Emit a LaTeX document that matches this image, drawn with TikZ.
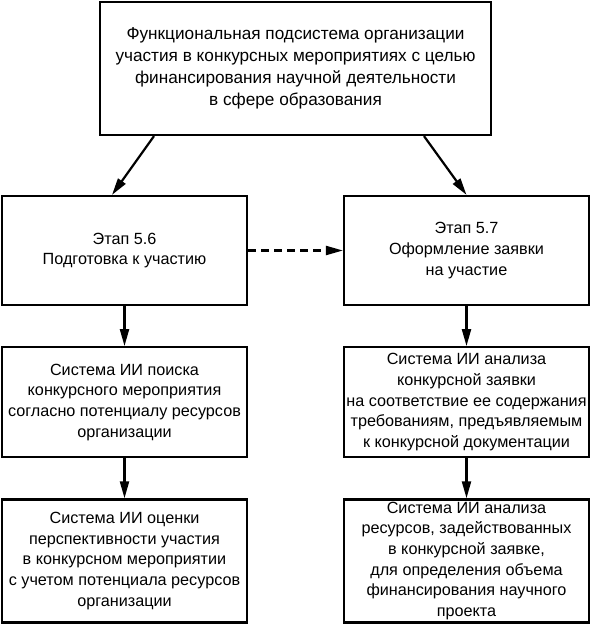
\documentclass[tikz,border=0pt]{standalone}
\usepackage{fontspec}
\setmainfont{Liberation Sans}
\usetikzlibrary{arrows.meta,positioning}

\begin{document}
\begin{tikzpicture}[
    x=1pt, y=1pt,
    node distance=40pt,
    box/.style={
      draw=black,
      line width=2.2pt,
      align=center,
      font=\fontsize{16.2}{20.6}\selectfont,
      inner xsep=1pt,
      inner ysep=0pt,
      minimum width=245pt
    },
    arr/.style={-{Triangle[length=17pt,width=9pt]}, line width=2.2pt},
    dasharr/.style={arr, dash pattern=on 8pt off 5pt}
  ]
    \useasboundingbox (0,0) rectangle (593,-624);

    \node[box, font=\fontsize{17.2}{22}\selectfont,
          minimum width=391pt, minimum height=133pt] (top) at (295.5,-68.5)
      {Функциональная подсистема организации\\
       участия в конкурсных мероприятиях с целью\\
       финансирования научной деятельности\\
       в сфере образования};

    \node[box, minimum height=109pt] (et6) at (124.5,-250.5)
      {Этап 5.6\\ Подготовка к участию};
    \node[box, minimum height=109pt] (et7) at (466.5,-250.5)
      {Этап 5.7\\ Оформление заявки\\ на участие};

    \node[box, minimum height=110pt, below=of et6] (poisk)
      {Система ИИ поиска\\ конкурсного мероприятия\\
       согласно потенциалу ресурсов\\ организации};
    \node[box, minimum height=110pt, below=of et7] (analiz)
      {Система ИИ анализа\\ конкурсной заявки\\
       на соответствие ее содержания\\ требованиям, предъявляемым\\
       к конкурсной документации};

    \node[box, minimum height=123pt, below=of poisk] (ocenka)
      {Система ИИ оценки\\ перспективности участия\\
       в конкурсном мероприятии\\ с учетом потенциала ресурсов\\
       организации};
    \node[box, minimum height=123pt, below=of analiz] (resursy)
      {Система ИИ анализа\\ ресурсов, задействованных\\
       в конкурсной заявке,\\ для определения объема\\
       финансирования научного\\ проекта};

    % arrows
    \draw[arr] ([xshift=-141.5pt]top.south) -- ([xshift=-12.5pt]et6.north);
    \draw[arr] ([xshift=128.5pt]top.south) -- (et7.north);
    \draw[dasharr] (et6.east) -- (et7.west);
    \draw[arr] (et6) -- (poisk);
    \draw[arr] (poisk) -- (ocenka);
    \draw[arr] (et7) -- (analiz);
    \draw[arr] (analiz) -- (resursy);
  \end{tikzpicture}
\end{document}
